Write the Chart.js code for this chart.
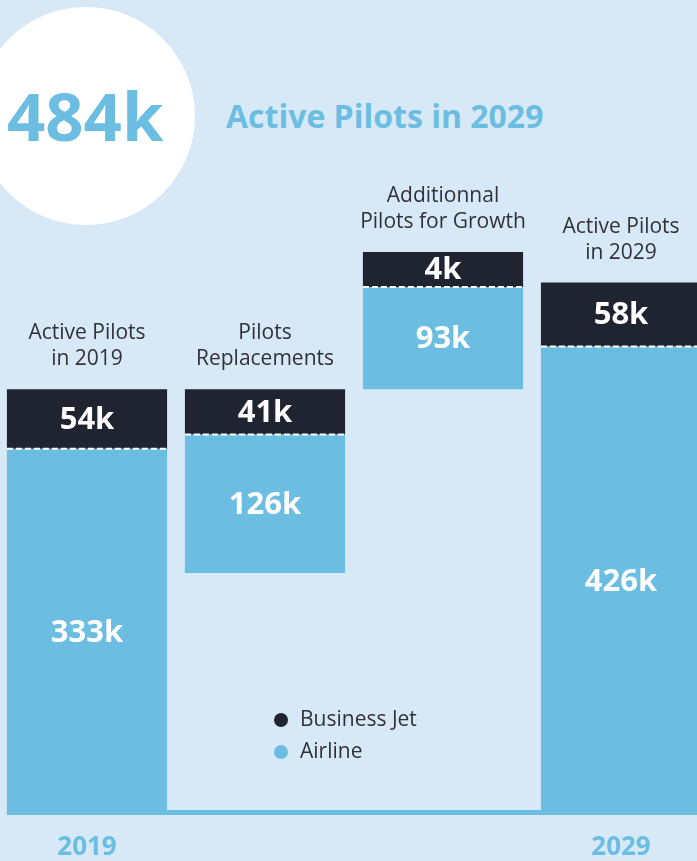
<!DOCTYPE html>
<html>
<head>
<meta charset="utf-8">
<script src="https://cdn.jsdelivr.net/npm/chart.js@4/dist/chart.umd.min.js"></script>
<style>
  body { margin: 0; background: #d7e9f6; font-family: "Open Sans", sans-serif; }
  #page { position: relative; width: 697px; height: 861px; overflow: hidden; }
  #circle { position: absolute; left: -23px; top: 7px; width: 218px; height: 218px; border-radius: 50%; background: #fff; }
  #big { position: absolute; left: 7px; top: 82px; font-size: 67px; line-height: 67px; font-weight: 700; color: #6bbee2; }
  #title { position: absolute; left: 226px; top: 100px; font-size: 32px; line-height: 32px; font-weight: 700; color: #6bbee2; }
  #wrap { position: absolute; left: -2px; top: 0; width: 712px; height: 861px; }
  .leg { position: absolute; left: 300px; font-size: 21px; line-height: 21px; color: #30313a; }
  .dot { position: absolute; left: 274px; width: 14px; height: 14px; border-radius: 50%; }
</style>
</head>
<body>
<div id="page">
  <div id="circle"></div>
  <div id="big">484k</div>
  <div id="title">Active Pilots in 2029</div>
  <div id="wrap"><canvas id="pilots-chart"></canvas></div>
  <div class="dot" style="top:713px;background:#202330"></div>
  <div class="leg" style="top:708px">Business Jet</div>
  <div class="dot" style="top:745px;background:#6bbee2"></div>
  <div class="leg" style="top:740px">Airline</div>
</div>
<script>
// what each column is
var categories = [
    ['Active Pilots', 'in 2019'],
    ['Pilots', 'Replacements'],
    ['Additionnal', 'Pilots for Growth'],
    ['Active Pilots', 'in 2029']
];
var yearLabels = ['2019', '', '', '2029'];

// thousands of pilots
var airline = [333, 126, 93, 426];
var businessJet = [54, 41, 4, 58];

var navy = '#202330';
var sky = '#6bbee2';

// waterfall: 2019 stock, replacements hang from it, growth sits on it, 2029 stock
function buildRanges() {
    var total2019 = airline[0] + businessJet[0];
    var air = [], jet = [];
    air.push([0, airline[0]]);
    jet.push([airline[0], total2019]);

    jet.push([total2019 - businessJet[1], total2019]);
    air.push([total2019 - businessJet[1] - airline[1], total2019 - businessJet[1]]);

    air.push([total2019, total2019 + airline[2]]);
    jet.push([total2019 + airline[2], total2019 + airline[2] + businessJet[2]]);

    air.push([0, airline[3]]);
    jet.push([airline[3], airline[3] + businessJet[3]]);
    return { air: air, jet: jet };
}

var ranges = buildRanges();

var waterfallText = {
    id: 'waterfallText',
    beforeDatasetsDraw: function(chart) {
        // blue baseline under the chart
        var ctx = chart.ctx;
        var bars = chart.getDatasetMeta(0).data;
        var first = bars[0], last = bars[bars.length - 1];
        var bottom = chart.chartArea.bottom;
        ctx.save();
        ctx.fillStyle = sky;
        ctx.fillRect(first.x - first.width / 2, bottom - 5, (last.x + last.width / 2) - (first.x - first.width / 2), 5);
        ctx.restore();
    },
    afterDatasetsDraw: function(chart) {
        var ctx = chart.ctx;
        var airBars = chart.getDatasetMeta(0).data;
        var jetBars = chart.getDatasetMeta(1).data;
        ctx.save();
        ctx.textAlign = 'center';
        ctx.textBaseline = 'middle';
        for (var i = 0; i < jetBars.length; i++) {
            var j = jetBars[i], a = airBars[i];
            var half = j.width / 2;

            // dashed split between the two segments
            ctx.setLineDash([6, 3]);
            ctx.strokeStyle = '#ffffff';
            ctx.lineWidth = 2;
            ctx.beginPath();
            ctx.moveTo(j.x - half, j.base);
            ctx.lineTo(j.x + half, j.base);
            ctx.stroke();
            ctx.setLineDash([]);

            ctx.fillStyle = '#ffffff';
            ctx.font = 'bold 31px "Open Sans"';
            ctx.fillText(businessJet[i] + 'k', j.x, (j.y + j.base) / 2 + 1);
            ctx.fillText(airline[i] + 'k', a.x, (a.y + a.base) / 2 + 1);

            // column heading above the bar
            var top = Math.min(j.y, j.base);
            ctx.fillStyle = '#30313a';
            ctx.font = '21px "Open Sans"';
            ctx.fillText(categories[i][0], j.x, top - 56);
            ctx.fillText(categories[i][1], j.x, top - 30);
        }
        ctx.restore();
    }
};

var ctx = document.getElementById('pilots-chart');
var pilotsChart = new Chart(ctx, {
    type: 'bar',
    data: {
        labels: categories,
        datasets: [{
            label: 'Airline',
            data: ranges.air,
            backgroundColor: sky,
            grouped: false,
            borderWidth: 0,
            barPercentage: 0.9,
            categoryPercentage: 1
        }, {
            label: 'Business Jet',
            data: ranges.jet,
            backgroundColor: navy,
            grouped: false,
            borderWidth: 0,
            minBarLength: 35,
            barPercentage: 0.9,
            categoryPercentage: 1
        }]
    },
    options: {
        responsive: true,
        maintainAspectRatio: false,
        animation: false,
        layout: { padding: { top: 210, left: 0, right: 0, bottom: 0 } },
        plugins: {
            legend: { display: false },
            tooltip: { enabled: false }
        },
        scales: {
            x: {
                grid: { display: false, drawTicks: false },
                border: { display: false },
                afterFit: function(scale) { scale.height = 46; },
                ticks: {
                    padding: 17,
                    maxRotation: 0,
                    color: sky,
                    font: { family: 'Open Sans', size: 26, weight: 'bold' },
                    callback: function(value, index) { return yearLabels[index]; }
                }
            },
            y: {
                display: false,
                min: 0,
                max: 550
            }
        }
    },
    plugins: [waterfallText]
});
</script>
</body>
</html>
